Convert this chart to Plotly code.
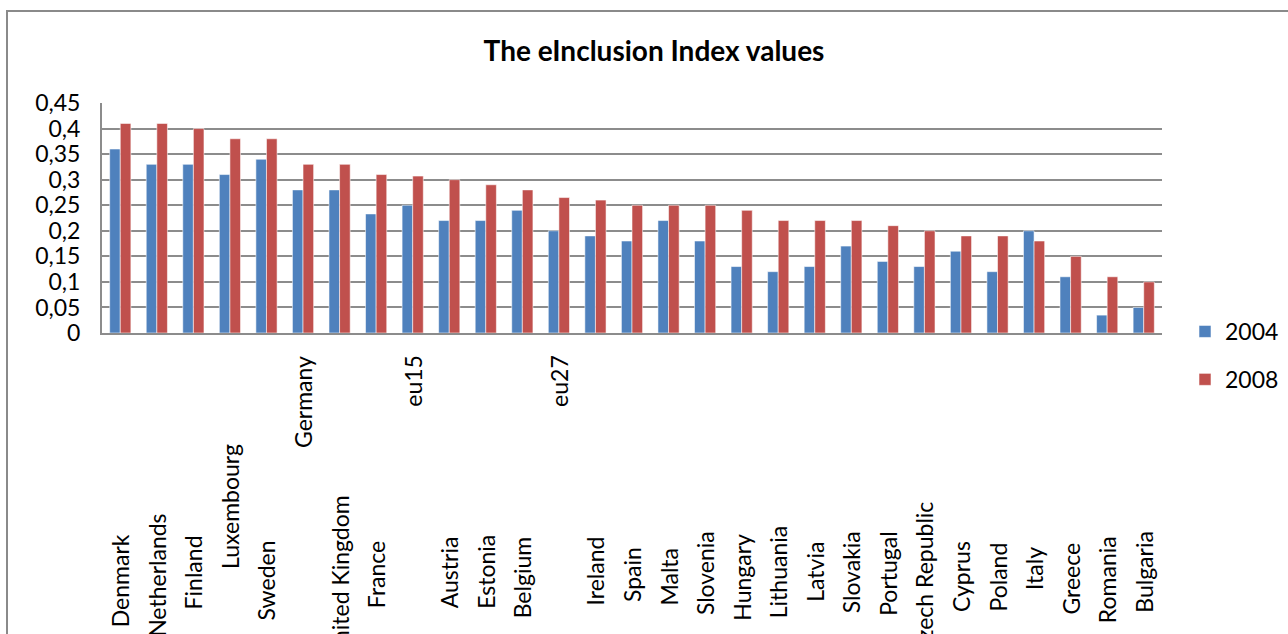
import plotly.graph_objects as go

# eInclusion Index per country / aggregate
countries = [
    "Denmark", "Netherlands", "Finland", "Luxembourg", "Sweden", "Germany",
    "United Kingdom", "France", "eu15", "Austria", "Estonia", "Belgium", "eu27",
    "Ireland", "Spain", "Malta", "Slovenia", "Hungary", "Lithuania", "Latvia",
    "Slovakia", "Portugal", "Czech Republic", "Cyprus", "Poland", "Italy",
    "Greece", "Romania", "Bulgaria",
]
values_2004 = [
    0.36, 0.33, 0.33, 0.31, 0.34, 0.28, 0.28, 0.233, 0.25, 0.22, 0.22, 0.24, 0.20,
    0.19, 0.18, 0.22, 0.18, 0.13, 0.12, 0.13, 0.17, 0.14, 0.13, 0.16, 0.12, 0.20,
    0.11, 0.035, 0.05,
]
values_2008 = [
    0.41, 0.41, 0.40, 0.38, 0.38, 0.33, 0.33, 0.31, 0.307, 0.30, 0.29, 0.28, 0.265,
    0.26, 0.25, 0.25, 0.25, 0.24, 0.22, 0.22, 0.22, 0.21, 0.20, 0.19, 0.19, 0.18,
    0.15, 0.11, 0.10,
]
y_ticks = [0, 0.05, 0.1, 0.15, 0.2, 0.25, 0.3, 0.35, 0.4, 0.45]
y_tick_text = ["0", "0,05", "0,1", "0,15", "0,2", "0,25", "0,3", "0,35", "0,4", "0,45"]

# layout geometry (pixels)
W, H = 1288, 634
PLOT_L, PLOT_R, PLOT_T, PLOT_B = 102, 1162, 103, 333
# vertical centre (pixel row) of each rotated category label
label_center_px = [
    581, 575, 572, 506, 580, 402, 578, 575, 381, 572, 572, 577, 381,
    571, 575, 577, 573, 577, 572, 572, 572, 573, 578, 576, 577, 569,
    579, 580, 572,
]

FONT = "Lato, Calibri, Carlito, sans-serif"
BLUE = "#4F81BD"
RED = "#C0504D"
GRID = "#8c8c8c"
TEXT_SIZE = 23


def py_to_paper(py):
    return (PLOT_B - py) / (PLOT_B - PLOT_T)


def px_to_paper(px):
    return (px - PLOT_L) / (PLOT_R - PLOT_L)


fig = go.Figure()
fig.add_trace(go.Bar(
    name="2004", x=countries, y=values_2004, legendgroup="a",
    marker=dict(color=BLUE, line=dict(color="rgba(255,255,255,0.55)", width=1)),
))
fig.add_trace(go.Bar(
    name="2008", x=countries, y=values_2008, legendgroup="b",
    marker=dict(color=RED, line=dict(color="rgba(255,255,255,0.55)", width=1)),
))

annotations = []
for name, cy in zip(countries, label_center_px):
    annotations.append(dict(
        x=name, xref="x", y=py_to_paper(cy), yref="paper",
        text=name, textangle=-90, showarrow=False,
        xanchor="center", yanchor="middle",
        font=dict(family=FONT, size=TEXT_SIZE, color="#000000"),
    ))

fig.update_layout(
    width=W, height=H,
    margin=dict(l=PLOT_L, r=W - PLOT_R, t=PLOT_T, b=H - PLOT_B, pad=0,
                autoexpand=False),
    paper_bgcolor="white", plot_bgcolor="white",
    barmode="group", bargap=0.42, bargroupgap=0.0,
    title=dict(
        text="<b>The eInclusion Index values</b>",
        x=px_to_paper(654), xref="paper", xanchor="center",
        y=1 - 51 / H, yref="container", yanchor="middle",
        font=dict(family=FONT, size=28, color="#000000"),
    ),
    font=dict(family=FONT, size=TEXT_SIZE, color="#000000"),
    legend=dict(
        x=1185 / W, xref="container", y=1 - 310 / H, yref="container",
        xanchor="left", yanchor="top",
        font=dict(family=FONT, size=TEXT_SIZE, color="#000000"),
        tracegroupgap=15, bgcolor="rgba(0,0,0,0)",
    ),
    annotations=annotations,
    shapes=[dict(
        type="rect", xref="paper", yref="paper",
        x0=px_to_paper(7), x1=px_to_paper(1295),
        y0=py_to_paper(645), y1=py_to_paper(11),
        line=dict(color="#8a8a8a", width=2), fillcolor="rgba(0,0,0,0)",
        layer="below",
    )],
)
fig.update_xaxes(
    showticklabels=False, showgrid=False, ticks="",
    showline=True, linecolor=GRID, linewidth=2,
)
fig.update_yaxes(
    range=[0, 0.45], tickvals=y_ticks, ticktext=y_tick_text,
    showgrid=True, gridcolor=GRID, gridwidth=2,
    showline=True, linecolor=GRID, linewidth=2,
    ticks="", ticklabelstandoff=15, zeroline=False,
    tickfont=dict(family=FONT, size=TEXT_SIZE, color="#000000"),
)

fig.write_html("out.html")
